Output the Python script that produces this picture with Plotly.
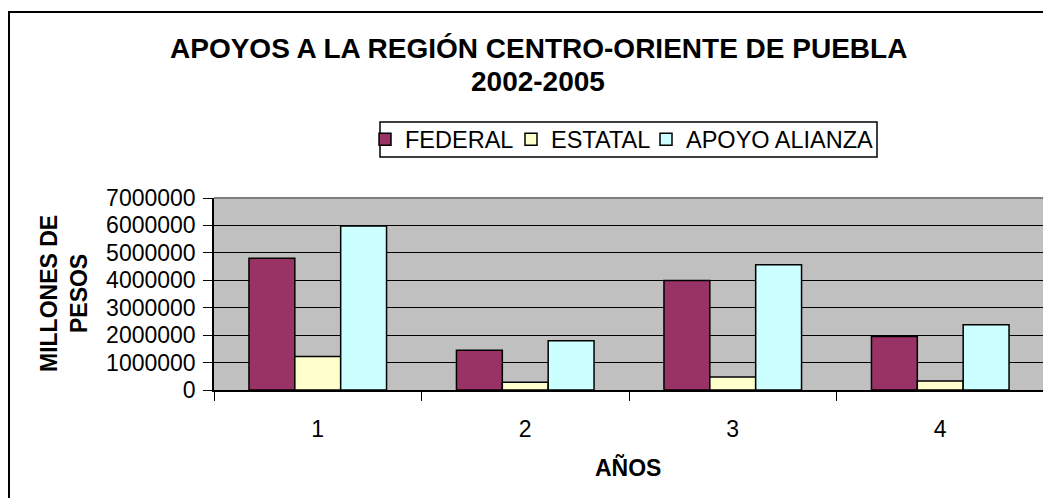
import plotly.graph_objects as go

years = ["1", "2", "3", "4"]
federal = [4800000, 1450000, 3990000, 1950000]
estatal = [1220000, 280000, 470000, 330000]
apoyo_alianza = [5980000, 1800000, 4570000, 2380000]

series_names = ["FEDERAL", "ESTATAL", "APOYO ALIANZA"]
title_line1 = "APOYOS A LA REGIÓN CENTRO-ORIENTE DE PUEBLA"
title_line2 = "2002-2005"
y_title = "MILLONES DE<br>PESOS"
x_title = "AÑOS"

FONT = "Arial, Liberation Sans, sans-serif"
# page has an 8px body margin; figure coordinates = page - 8
W, H = 1043, 490
L, R, T, B = 206, 1036, 190, 382

def px_x(px):
    return (px - L) / (R - L)

def px_y(py):
    return (B - py) / (B - T)

fig = go.Figure()
colors = ["#993366", "#FFFFCC", "#CCFFFF"]
legend_ids = ["legend", "legend2", "legend3"]
for name, vals, col, lg in zip(series_names, [federal, estatal, apoyo_alianza], colors, legend_ids):
    fig.add_trace(go.Bar(x=years, y=vals, name=name, legend=lg,
                         marker=dict(color=col, line=dict(color="black", width=1.5))))

legend_lefts = [357, 503, 638]
leg_common = dict(orientation="h", xanchor="left", y=px_y(131.5), yanchor="middle",
                  bgcolor="rgba(0,0,0,0)", borderwidth=0, font=dict(size=23.5),
                  itemwidth=30)
fig.update_layout(
    width=W, height=H,
    margin=dict(l=L, r=W - R, t=T, b=H - B),
    paper_bgcolor="white", plot_bgcolor="#C0C0C0",
    barmode="group", bargap=0.337, bargroupgap=0,
    font=dict(family=FONT, color="black", size=23),
    showlegend=True,
    legend=dict(x=px_x(legend_lefts[0]), **leg_common),
    legend2=dict(x=px_x(legend_lefts[1]), **leg_common),
    legend3=dict(x=px_x(legend_lefts[2]), **leg_common),
)
fig.update_xaxes(type="category", tickson="boundaries", ticks="outside", ticklen=9,
                 tickcolor="black", showline=True, linecolor="black", linewidth=1.5,
                 showgrid=False, tickfont=dict(size=23), ticklabelstandoff=18)
fig.update_yaxes(range=[0, 7000000], dtick=1000000, tickformat="d", ticks="outside",
                 ticklen=9, tickcolor="black", showline=True, linecolor="black",
                 linewidth=1.5, showgrid=True, gridcolor="black", gridwidth=1,
                 zeroline=False, tickfont=dict(size=23), ticklabelstandoff=3)

# plot-area grey border (top, right)
fig.add_shape(type="line", xref="paper", yref="paper", x0=0, x1=1, y0=1, y1=1,
              line=dict(color="#808080", width=2), layer="above")
fig.add_shape(type="line", xref="paper", yref="paper", x0=1, x1=1, y0=0, y1=1,
              line=dict(color="#808080", width=2), layer="above")
# outer chart border
fig.add_shape(type="rect", xref="paper", yref="paper",
              x0=px_x(1), x1=px_x(1070), y0=px_y(520), y1=px_y(4),
              line=dict(color="black", width=2), layer="above")
# legend box
fig.add_shape(type="rect", xref="paper", yref="paper",
              x0=px_x(372), x1=px_x(869), y0=px_y(149), y1=px_y(114),
              line=dict(color="black", width=1.5), fillcolor="white", layer="below")

fig.add_annotation(text="<b>" + title_line1 + "</b>", xref="paper", yref="paper",
                   x=px_x(530), y=px_y(40), xanchor="center", yanchor="middle",
                   showarrow=False, font=dict(size=28))
fig.add_annotation(text="<b>" + title_line2 + "</b>", xref="paper", yref="paper",
                   x=px_x(530), y=px_y(73), xanchor="center", yanchor="middle",
                   showarrow=False, font=dict(size=28))
fig.add_annotation(text="<b>" + y_title + "</b>", xref="paper", yref="paper",
                   x=px_x(56), y=0.5, xanchor="center", yanchor="middle",
                   showarrow=False, textangle=-90, font=dict(size=23))
fig.add_annotation(text="<b>" + x_title + "</b>", xref="paper", yref="paper",
                   x=px_x(620), y=px_y(459), xanchor="center", yanchor="middle",
                   showarrow=False, font=dict(size=23))

fig.write_html("out.html")
